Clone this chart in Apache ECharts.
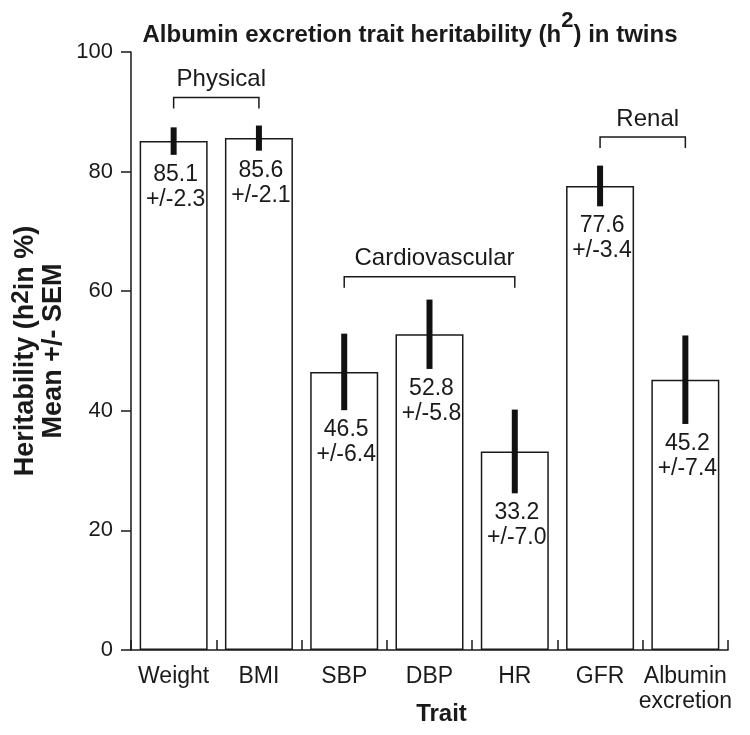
<!DOCTYPE html>
<html>
<head>
<meta charset="utf-8">
<script src="https://cdn.jsdelivr.net/npm/echarts@6/dist/echarts.min.js"></script>
<style>html,body{margin:0;padding:0;background:#fff;}#c{width:750px;height:735px;}</style>
</head>
<body>
<div id="c"></div>
<script>
// ---- data ----
const categories = ['Weight', 'BMI', 'SBP', 'DBP', 'HR', 'GFR', 'Albumin\nexcretion'];
const means = [85.1, 85.6, 46.5, 52.8, 33.2, 77.6, 45.2];
const sems = [2.3, 2.1, 6.4, 5.8, 7.0, 3.4, 7.4];
const groupNames = ['Physical', 'Cardiovascular', 'Renal'];
const groupStart = [0, 2, 5];
const groupEnd = [1, 4, 6];
const groupLevel = [92.4, 62.4, 85.8];

const FONT = "'Liberation Sans', Arial, Helvetica, sans-serif";
const INK = '#1a1a1a';

const chart = echarts.init(document.getElementById('c'), null, {renderer: 'canvas'});

const errData = means.map((m, i) => [i, m, sems[i]]);
const grpData = groupNames.map((n, i) => [groupStart[i], groupEnd[i], groupLevel[i], n]);

const option = {
  backgroundColor: '#fff',
  animation: false,
  title: {
    text: '{a|Albumin excretion trait heritability (h}{s|2}{a|) in twins}',
    left: 405, top: 5, textAlign: 'center',
    textStyle: {
      rich: {
        a: {fontFamily: FONT, fontSize: 24, fontWeight: 'bold', color: INK},
        s: {fontFamily: FONT, fontSize: 22, fontWeight: 'bold', color: INK, padding: [0, 0, 28, 0]}
      }
    }
  },
  grid: {left: 131, right: 22, top: 52, bottom: 85, containLabel: false, outerBoundsMode: 'none'},
  xAxis: {
    type: 'category',
    data: categories,
    boundaryGap: true,
    axisLine: {lineStyle: {color: INK, width: 1.5}},
    axisTick: {show: true, inside: true, length: 10, lineStyle: {color: INK, width: 1.5}},
    axisLabel: {fontFamily: FONT, fontSize: 23, color: INK, margin: 14, lineHeight: 25, interval: 0},
    name: 'Trait',
    nameLocation: 'middle',
    nameGap: 52,
    nameMoveOverlap: false,
    nameTextStyle: {fontFamily: FONT, fontSize: 24, fontWeight: 'bold', color: INK, padding: [0, 0, 0, 24]}
  },
  yAxis: {
    type: 'value',
    min: 0, max: 100, interval: 20,
    splitLine: {show: false},
    axisLine: {show: true, lineStyle: {color: INK, width: 1.5}},
    axisTick: {show: true, inside: false, length: 10, lineStyle: {color: INK, width: 1.5}},
    axisLabel: {fontFamily: FONT, fontSize: 22, color: INK, margin: 18},
    name: '{b|Heritability (h}{s|2}{b|in %)}\n{b|Mean +/- SEM}',
    nameLocation: 'middle',
    nameGap: 66,
    nameMoveOverlap: false,
    nameTextStyle: {
      rich: {
        b: {fontFamily: FONT, fontSize: 27, fontWeight: 'bold', color: INK, lineHeight: 23},
        s: {fontFamily: FONT, fontSize: 24, fontWeight: 'bold', color: INK, padding: [0, 0, 9, 0]}
      }
    }
  },
  series: [
    {
      type: 'bar',
      data: means,
      barWidth: 68,
      itemStyle: {color: '#fff', borderColor: INK, borderWidth: 1.5},
      z: 2
    },
    {
      type: 'custom',
      data: errData,
      clip: false,
      z: 3,
      renderItem: function (params, api) {
        const i = api.value(0), m = api.value(1), s = api.value(2);
        const hi = api.coord([i, m + s]);
        const lo = api.coord([i, m - s]);
        return {
          type: 'group',
          children: [
            {type: 'line', shape: {x1: hi[0], y1: hi[1], x2: lo[0], y2: lo[1]},
             style: {stroke: '#111', lineWidth: 6, lineCap: 'butt'}},
            {type: 'text', x: lo[0] + 2, y: lo[1] + 7,
             style: {text: m.toFixed(1) + '\n+/-' + s.toFixed(1), fill: INK, font: '23px ' + FONT,
                     align: 'center', verticalAlign: 'top', lineHeight: 25}}
          ]
        };
      }
    },
    {
      type: 'custom',
      data: grpData,
      clip: false,
      z: 3,
      renderItem: function (params, api) {
        const a = api.value(0), b = api.value(1), lv = api.value(2);
        const name = groupNames[params.dataIndex];
        const p1 = api.coord([a, lv]);
        const p2 = api.coord([b, lv]);
        return {
          type: 'group',
          children: [
            {type: 'polyline', shape: {points: [[p1[0], p1[1] + 11], [p1[0], p1[1]], [p2[0], p2[1]], [p2[0], p2[1] + 11]]},
             style: {stroke: INK, lineWidth: 1.5, fill: null}},
            {type: 'text', x: (p1[0] + p2[0]) / 2 + 5, y: p1[1] - 18,
             style: {text: name, fill: INK, font: '24px ' + FONT, align: 'center', verticalAlign: 'middle'}}
          ]
        };
      }
    }
  ]
};
chart.setOption(option);
</script>
</body>
</html>
